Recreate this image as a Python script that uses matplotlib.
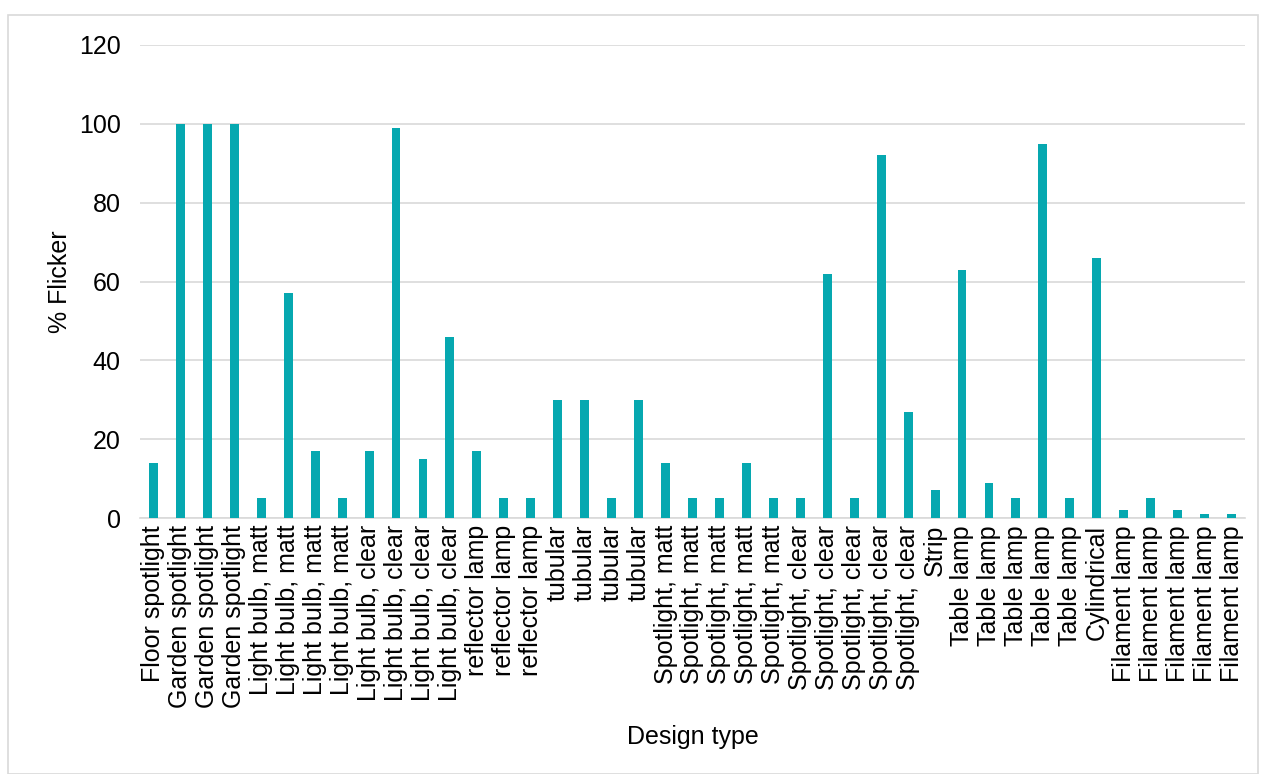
import matplotlib.pyplot as plt
from matplotlib.patches import Rectangle

plt.rcParams['font.family'] = ['Liberation Sans', 'DejaVu Sans']

designs = [
    "Floor spotlight", "Garden spotlight", "Garden spotlight", "Garden spotlight",
    "Light bulb, matt", "Light bulb, matt", "Light bulb, matt", "Light bulb, matt",
    "Light bulb, clear", "Light bulb, clear", "Light bulb, clear", "Light bulb, clear",
    "reflector lamp", "reflector lamp", "reflector lamp",
    "tubular", "tubular", "tubular", "tubular",
    "Spotlight, matt", "Spotlight, matt", "Spotlight, matt", "Spotlight, matt", "Spotlight, matt",
    "Spotlight, clear", "Spotlight, clear", "Spotlight, clear", "Spotlight, clear", "Spotlight, clear",
    "Strip",
    "Table lamp", "Table lamp", "Table lamp", "Table lamp", "Table lamp",
    "Cylindrical",
    "Filament lamp", "Filament lamp", "Filament lamp", "Filament lamp", "Filament lamp",
]
flicker = [
    14, 100, 100, 100,
    5, 57, 17, 5,
    17, 99, 15, 46,
    17, 5, 5,
    30, 30, 5, 30,
    14, 5, 5, 14, 5,
    5, 62, 5, 92, 27,
    7,
    63, 9, 5, 95, 5,
    66,
    2, 5, 2, 1, 1,
]
yticks = [0, 20, 40, 60, 80, 100, 120]

fig = plt.figure(figsize=(12.64, 7.74), dpi=100)
ax = fig.add_axes([140 / 1264, 1 - 518 / 774, 1105 / 1264, 473 / 774])

x = list(range(len(designs)))
ax.bar(x, flicker, width=0.33, color='#06A8B0', zorder=3)

ax.set_xlim(-0.5, len(designs) - 0.5)
ax.set_ylim(0, 120)
ax.set_yticks(yticks)
ax.set_xticks(x)
ax.set_xticklabels(designs, rotation=90, fontsize=18)
ax.tick_params(axis='y', labelsize=18, length=0, pad=14)
ax.tick_params(axis='x', length=0, pad=5)
ax.grid(axis='y', color='#d9d9d9', linewidth=1.2, zorder=0)
for s in ['top', 'right', 'left']:
    ax.spines[s].set_visible(False)
ax.spines['bottom'].set_color('#d9d9d9')
ax.spines['bottom'].set_linewidth(1.2)

ax.set_ylabel("% Flicker", fontsize=18, labelpad=5)
ax.set_xlabel("Design type", fontsize=18, labelpad=12)

# light frame around the chart area
fig.patches.append(Rectangle((8 / 1264, 0), 1250 / 1264, 1 - 15 / 774,
                             transform=fig.transFigure, fill=False,
                             edgecolor='#d9d9d9', linewidth=1.2))

fig.savefig("out.png", dpi=100)
